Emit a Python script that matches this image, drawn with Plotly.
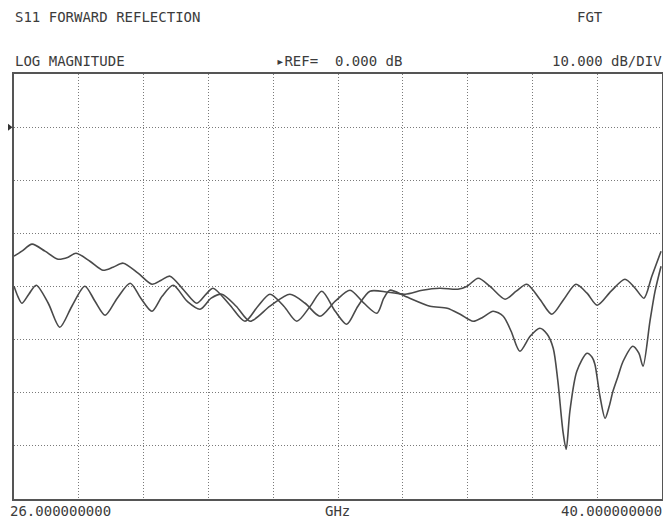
import plotly.graph_objects as go

# ---- data (frequency in GHz, magnitude in dB) ----
trace_a_ghz = [26.00, 26.17, 26.39, 26.67, 26.95, 27.17, 27.34, 27.64, 27.92, 28.14,
               28.36, 28.68, 28.98, 29.18, 29.37, 29.67, 29.95, 30.15, 30.30, 30.65,
               30.99, 31.27, 31.53, 31.83, 32.11, 32.40, 32.65, 32.94, 33.19, 33.43,
               33.69, 34.08, 34.45, 34.82, 35.20, 35.59, 35.79, 36.03, 36.28, 36.61,
               36.85, 37.08, 37.36, 37.62, 37.88, 38.14, 38.38, 38.60, 38.90, 39.20,
               39.42, 39.61, 39.78, 39.98]
trace_a_db = [-24.29, -23.35, -22.03, -23.35, -24.86, -24.48, -23.73, -25.24, -26.93, -26.37,
              -25.61, -27.50, -29.57, -28.81, -28.06, -30.70, -33.15, -31.45, -30.32, -33.33,
              -36.53, -33.71, -31.45, -33.71, -36.53, -33.71, -30.88, -34.65, -37.10, -33.71,
              -30.88, -31.07, -31.45, -30.70, -30.32, -30.51, -29.94, -28.44, -29.94, -32.39,
              -30.88, -29.57, -32.39, -35.22, -32.39, -29.57, -31.26, -33.52, -30.88, -28.63,
              -30.32, -32.20, -28.06, -23.35]

trace_b_ghz = [26.00, 26.09, 26.17, 26.32, 26.48, 26.74, 26.99, 27.25, 27.53, 27.75,
               27.97, 28.23, 28.51, 28.74, 28.98, 29.20, 29.44, 29.74, 30.02, 30.26,
               30.49, 30.80, 31.10, 31.53, 31.96, 32.29, 32.61, 32.94, 33.26, 33.56,
               33.84, 33.99, 34.12, 34.45, 34.99, 35.36, 35.64, 35.92, 36.13, 36.35,
               36.57, 36.74, 36.93, 37.15, 37.36, 37.52, 37.65, 37.75, 37.86, 37.93,
               38.01, 38.16, 38.38, 38.49, 38.55, 38.66, 38.77, 38.86, 38.94, 39.05,
               39.16, 39.37, 39.50, 39.59, 39.74, 39.85, 39.98]
trace_b_db = [-29.94, -32.01, -33.15, -31.45, -29.76, -33.15, -37.66, -33.71, -29.94, -32.77,
              -35.40, -32.20, -29.38, -32.20, -34.65, -31.83, -29.76, -32.77, -34.27, -32.20,
              -31.45, -33.71, -36.53, -33.71, -31.45, -33.15, -35.59, -32.77, -30.70, -33.15,
              -35.03, -32.20, -30.70, -31.83, -33.71, -34.09, -35.22, -36.53, -35.78, -34.65,
              -35.59, -38.42, -42.18, -39.36, -37.85, -38.98, -41.62, -47.83, -57.25, -60.64,
              -53.48, -45.95, -42.56, -43.31, -44.63, -50.66, -54.80, -52.54, -49.72, -46.89,
              -44.07, -41.24, -42.56, -45.01, -36.53, -30.88, -26.18]

x_start, x_stop = 26.0, 40.0
ref_db, db_per_div, n_div_y = 0.0, 10.0, 8
title_left = "S11 FORWARD REFLECTION"
title_right = "FGT"
format_label = "LOG MAGNITUDE"
ref_label = "\u25b8REF=  0.000 dB"
scale_label = "10.000 dB/DIV"
start_label = "26.000000000"
unit_label = "GHz"
stop_label = "40.000000000"

LINE = "#4a4a4a"
TEXT = "#3c3c3c"
FONT = "DejaVu Sans Mono"

fig = go.Figure()
for xs, ys in [(trace_a_ghz, trace_a_db), (trace_b_ghz, trace_b_db)]:
    fig.add_trace(go.Scatter(x=xs, y=ys, mode="lines",
                             line=dict(color=LINE, width=1.6, shape="spline", smoothing=0.8),
                             showlegend=False, hoverinfo="skip"))

y_top = ref_db + db_per_div
y_bot = y_top - n_div_y * db_per_div

grid_style = dict(showgrid=True, gridcolor="#7a7a7a", griddash="1px,2px", gridwidth=1,
                  showline=True, mirror=True, linecolor="#555555", linewidth=1.5,
                  showticklabels=False, ticks="", zeroline=False)
fig.update_xaxes(range=[x_start, x_stop], dtick=(x_stop - x_start) / 10, tick0=x_start, **grid_style)
fig.update_yaxes(range=[y_bot, y_top], dtick=db_per_div, tick0=0, **grid_style)

def ann(text, x, y, xanchor, size=14):
    fig.add_annotation(text=text, x=x, y=y, xref="paper", yref="paper",
                       xanchor=xanchor, yanchor="middle", showarrow=False,
                       font=dict(family=FONT, size=size, color=TEXT))

ann(title_left, -0.002, 1.134, "left")
ann(title_right, 0.866, 1.134, "left")
ann(format_label, -0.002, 1.031, "left")
ann(ref_label, 0.402, 1.031, "left")
ann(scale_label, 1.003, 1.031, "right")
ann(start_label, -0.0085, -0.028, "left")
ann(unit_label, 0.4985, -0.028, "center")
ann(stop_label, 1.003, -0.028, "right")

# reference-level marker just left of the frame, anchored at the REF value
fig.add_shape(type="path", xref="paper", yref="y",
              xsizemode="pixel", ysizemode="pixel", xanchor=0, yanchor=ref_db,
              path="M-6,-3.5 L-1.5,0 L-6,3.5 Z",
              fillcolor="#333333", line=dict(width=0), layer="above")

# page body has an 8px margin: shrink the figure so the plot lands where the reference has it
fig.update_layout(width=663, height=511,
                  margin=dict(l=6, r=9, t=66, b=20),
                  paper_bgcolor="white", plot_bgcolor="white")

fig.write_html("out.html")
